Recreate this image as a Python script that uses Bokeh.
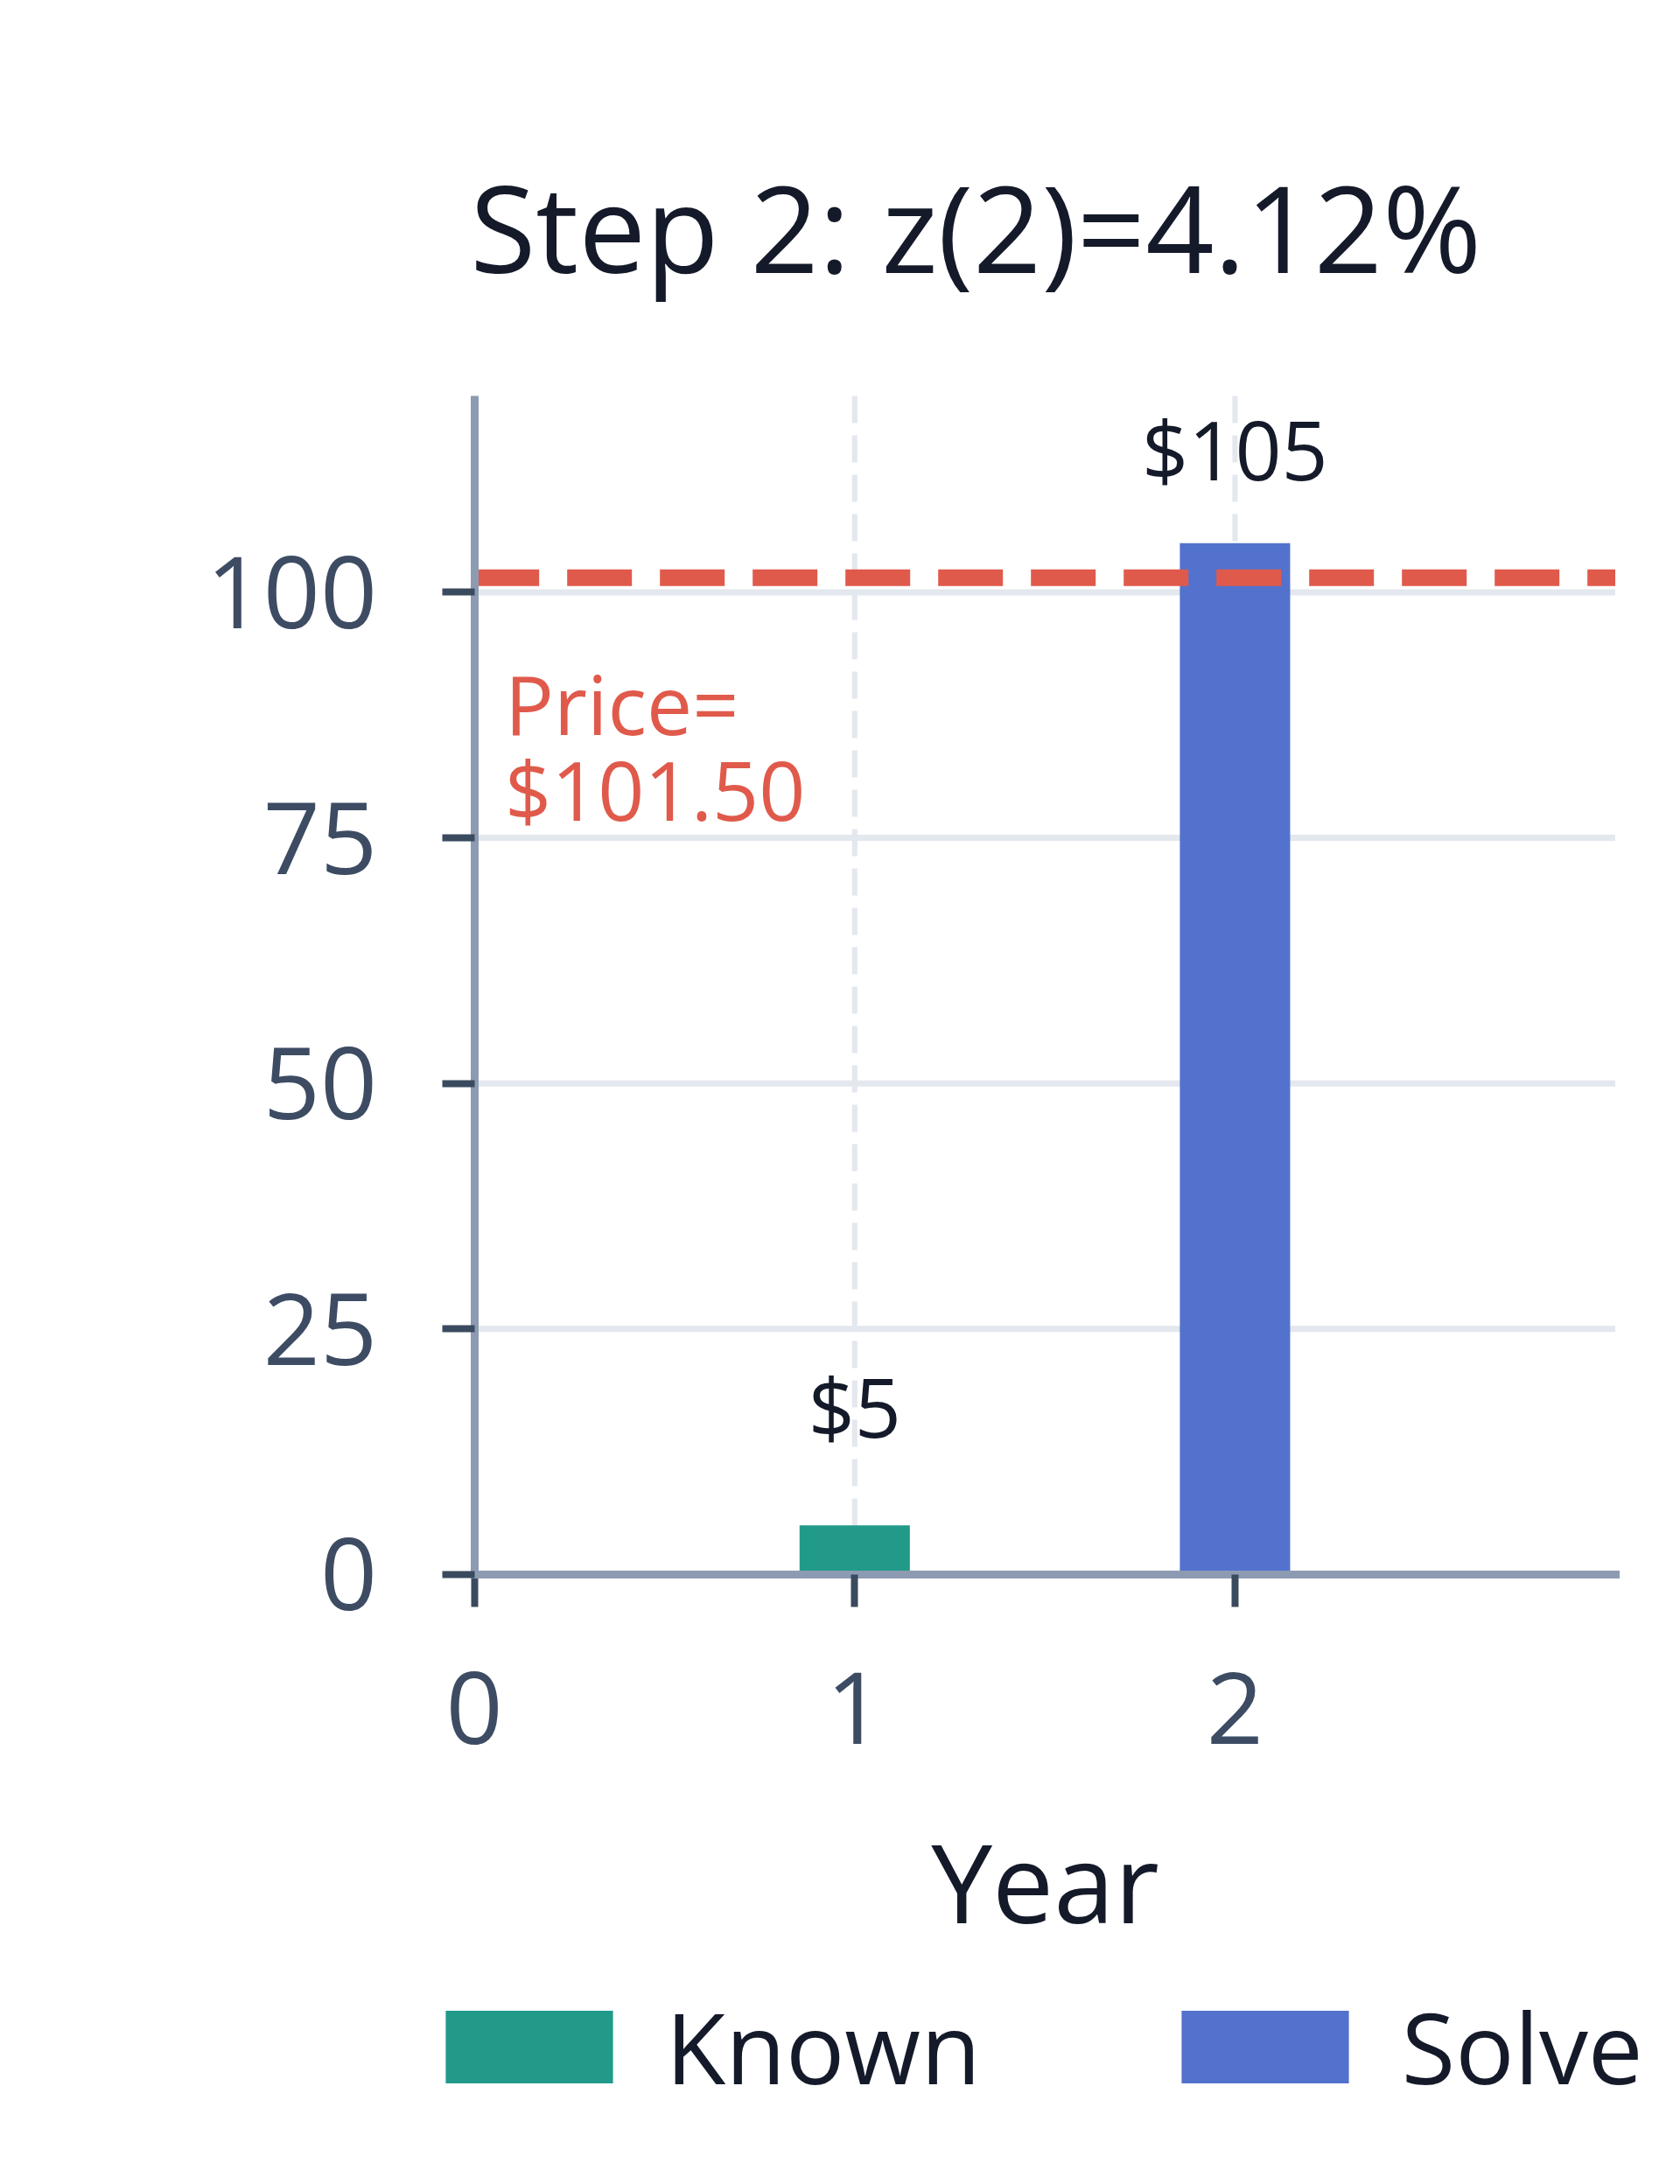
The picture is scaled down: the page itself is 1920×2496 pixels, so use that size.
from bokeh.plotting import figure
from bokeh.models import ColumnDataSource, FixedTicker, Legend, LegendItem, Range1d
from bokeh.core.properties import value
from bokeh.embed import file_html
from bokeh.resources import INLINE

# ---- data ----
title_text = "Step 2: z(2)=4.12%"
years = [1, 2]
cash_flows = [5, 105]
series = ["Known", "Solve"]
bar_labels = ["$5", "$105"]
price = 101.5
price_label = "Price=\n$101.50"
x_ticks = [0, 1, 2]
y_ticks = [0, 25, 50, 75, 100]
x_label = "Year"

# ---- style / layout ----
FONT = "Open Sans"
bar_colors = ["#229a8a", "#5372cd"]
RED = "#e05a4b"
SPINE = "#8d9bb2"
TICK = "#3a4a5f"
TICKLABEL = "#3d4c63"
GRID = "#e3e7ee"
DARK = "#141a29"
label_offsets = [-136, -108]
PRICE_LABEL_X = 0.08
PRICE_LABEL_Y = 84.3
X_MAX = 3          # data area: x 0..3, y 0..120
Y_TOP = 120
X_LEFT = -0.8      # extra room (inside the frame) for tick labels and legend
X_RIGHT = 3.1
Y_BOTTOM = -58.8
PX_X = 1304 / 3
PX_Y = 11.225
ZERO_X = 542       # canvas x of data x = 0
LEG_DX = -57       # legend left relative to x = 0 (px)
LEG_DY = 44        # legend bottom above frame bottom (px)

p = figure(frame_width=int(round((X_RIGHT - X_LEFT) * PX_X)),
           frame_height=int(round((Y_TOP - Y_BOTTOM) * PX_Y)),
           min_border_left=int(round(ZERO_X + X_LEFT * PX_X)), min_border_right=8,
           min_border_top=452, min_border_bottom=0,
           x_range=Range1d(X_LEFT, X_RIGHT), y_range=Range1d(Y_BOTTOM, Y_TOP),
           output_backend="svg", toolbar_location=None,
           background_fill_color="white", border_fill_color="white")
p.outline_line_color = None

# title (aligned with x = 0)
p.title.text = title_text
p.title.text_font = FONT
p.title.text_font_size = "137px"
p.title.text_font_style = "normal"
p.title.text_color = DARK
p.title.align = "left"
p.title.offset = -X_LEFT * PX_X - 5
p.title.standoff = 201

# grids, drawn only over the data area
p.xgrid.visible = False
p.ygrid.visible = False
p.segment(x0=[0] * len(y_ticks), y0=y_ticks, x1=[X_MAX] * len(y_ticks), y1=y_ticks,
          line_color=GRID, line_width=7)
p.segment(x0=x_ticks, y0=[Y_TOP] * len(x_ticks), x1=x_ticks, y1=[0] * len(x_ticks),
          line_color=GRID, line_width=6, line_dash="31 14")

# axes
for ax in (p.xaxis[0], p.yaxis[0]):
    ax.axis_line_color = SPINE
    ax.axis_line_width = 9
    ax.axis_line_cap = "square"
    ax.major_tick_line_color = TICK
    ax.major_tick_line_width = 8
    ax.major_tick_out = 37
    ax.major_tick_in = 0
    ax.minor_tick_line_color = None
    ax.major_label_text_font = FONT
    ax.major_label_text_font_size = "114px"
    ax.major_label_text_color = TICKLABEL
p.xaxis.ticker = FixedTicker(ticks=x_ticks)
p.yaxis.ticker = FixedTicker(ticks=y_ticks)
p.xaxis.fixed_location = 0
p.yaxis.fixed_location = 0
p.xaxis.bounds = (0, X_MAX)
p.yaxis.bounds = (0, Y_TOP)
p.xaxis.major_label_standoff = 75
p.yaxis.major_label_standoff = 74
p.xaxis.axis_label = x_label
p.xaxis.axis_label_text_font = FONT
p.xaxis.axis_label_text_font_size = "125px"
p.xaxis.axis_label_text_font_style = "normal"
p.xaxis.axis_label_text_color = DARK
p.xaxis.axis_label_standoff = 67

# bars
src = ColumnDataSource(dict(x=years, top=cash_flows, color=bar_colors,
                            label=bar_labels, off=label_offsets, name=series))
bars = p.vbar(x="x", top="top", bottom=0, width=0.29, source=src, fill_color="color",
              fill_alpha=1.0, line_color=None)

# bar value labels
p.text(x="x", y="top", text="label", source=src, y_offset="off",
       text_align="center", text_baseline="alphabetic",
       text_font=value(FONT), text_font_size="93px", text_color=DARK)

# price line + label
p.line(x=[0, X_MAX], y=[price, price], line_color=RED, line_width=19, line_dash="74 32")
p.text(x=[PRICE_LABEL_X], y=[PRICE_LABEL_Y], text=[price_label],
       text_align="left", text_baseline="middle", text_line_height=0.78,
       text_font=value(FONT), text_font_size="93px", text_color=RED)

# legend (inside the frame, below the x axis)
legend = Legend(items=[LegendItem(label=series[i], renderers=[bars], index=i) for i in range(2)],
                orientation="horizontal",
                location=(LEG_DX - X_LEFT * PX_X, LEG_DY),
                glyph_width=239, glyph_height=104, label_standoff=37, spacing=205,
                padding=0, margin=0, border_line_alpha=0, background_fill_alpha=0,
                label_text_font=FONT, label_text_font_size="112px",
                label_text_color=DARK)
p.add_layout(legend)

open("out.html", "w").write(file_html(p, INLINE))
